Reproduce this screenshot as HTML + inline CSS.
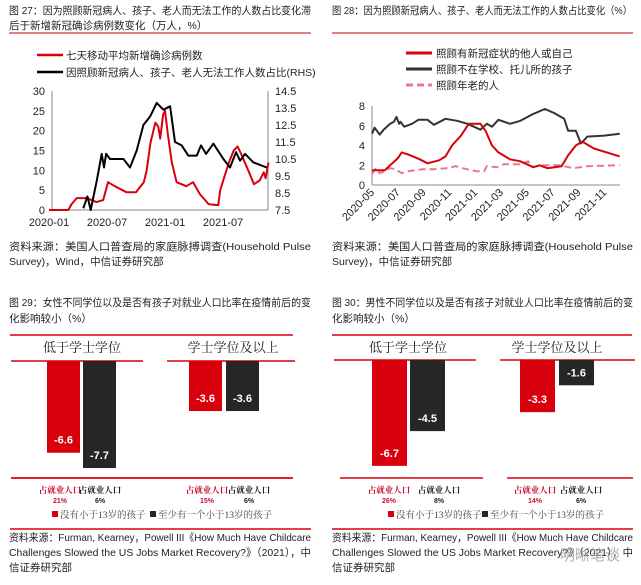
<!DOCTYPE html>
<html><head><meta charset="utf-8"><style>
html,body{margin:0;padding:0;background:#fff;}
svg{display:block;font-family:"Liberation Sans","Noto Sans CJK SC",sans-serif;}
.t{font-size:10.5px;fill:#222;}
.s{font-size:10.5px;fill:#222;}
.ax{font-size:11px;fill:#222;}
.sf{font-family:"Liberation Serif","Noto Serif CJK SC",serif;}
</style></head><body>
<svg id="svg" width="641" height="585" viewBox="0 0 641 585" xmlns="http://www.w3.org/2000/svg">
<g>
<text class="t" x="9" y="14" textLength="302" lengthAdjust="spacingAndGlyphs">图 27：因为照顾新冠病人、孩子、老人而无法工作的人数占比变化滞</text>
<text class="t" x="9" y="29">后于新增新冠确诊病例数变化（万人，%）</text>
<line x1="9" y1="33" x2="311" y2="33" stroke="#c00" stroke-width="1"/>
<line x1="37" y1="55" x2="63" y2="55" stroke="#d9000d" stroke-width="2.5"/>
<text class="s" x="66" y="59">七天移动平均新增确诊病例数</text>
<line x1="37" y1="72" x2="63" y2="72" stroke="#000" stroke-width="2.5"/>
<text class="s" x="66" y="76">因照顾新冠病人、孩子、老人无法工作人数占比(RHS)</text>
<g id="c27"></g>
<text class="s" x="9" y="250" textLength="302" lengthAdjust="spacingAndGlyphs">资料来源：美国人口普查局的家庭脉搏调查(Household Pulse</text>
<text class="s" x="9" y="265">Survey)，Wind，中信证券研究部</text>
</g>
<g>
<text class="t" x="332" y="14" textLength="300" lengthAdjust="spacingAndGlyphs">图 28：因为照顾新冠病人、孩子、老人而无法工作的人数占比变化（%）</text>
<line x1="332" y1="33" x2="633" y2="33" stroke="#c00" stroke-width="1"/>
<line x1="406" y1="53" x2="432" y2="53" stroke="#d9000d" stroke-width="3"/>
<text class="s" x="436" y="57">照顾有新冠症状的他人或自己</text>
<line x1="406" y1="69" x2="432" y2="69" stroke="#333" stroke-width="3"/>
<text class="s" x="436" y="73">照顾不在学校、托儿所的孩子</text>
<line x1="406" y1="85" x2="432" y2="85" stroke="#e8788c" stroke-width="3" stroke-dasharray="7,4"/>
<text class="s" x="436" y="89">照顾年老的人</text>
<g id="c28"></g>
<text class="s" x="332" y="250" textLength="301" lengthAdjust="spacingAndGlyphs">资料来源：美国人口普查局的家庭脉搏调查(Household Pulse</text>
<text class="s" x="332" y="265">Survey)，中信证券研究部</text>
</g>
<g>
<text class="t" x="9" y="306" textLength="302" lengthAdjust="spacingAndGlyphs">图 29：女性不同学位以及是否有孩子对就业人口比率在疫情前后的变</text>
<text class="t" x="9" y="322">化影响较小（%）</text>
<g id="c29"></g>
<text class="s" x="9" y="541" textLength="302" lengthAdjust="spacingAndGlyphs">资料来源：Furman, Kearney，Powell III《How Much Have Childcare</text>
<text class="s" x="9" y="556" textLength="302" lengthAdjust="spacingAndGlyphs">Challenges Slowed the US Jobs Market Recovery?》（2021），中</text>
<text class="s" x="9" y="571">信证券研究部</text>
</g>
<g>
<text class="t" x="332" y="306" textLength="301" lengthAdjust="spacingAndGlyphs">图 30：男性不同学位以及是否有孩子对就业人口比率在疫情前后的变</text>
<text class="t" x="332" y="322">化影响较小（%）</text>
<g id="c30"></g>
<text class="s" x="332" y="541" textLength="301" lengthAdjust="spacingAndGlyphs">资料来源：Furman, Kearney，Powell III《How Much Have Childcare</text>
<text class="s" x="332" y="556" textLength="301" lengthAdjust="spacingAndGlyphs">Challenges Slowed the US Jobs Market Recovery?》（2021），中</text>
<text class="s" x="332" y="571">信证券研究部</text>
<text x="560" y="560" style="font-size:15px;fill:#999;opacity:0.8">明晰笔谈</text>
</g>
</svg>
<script>
// ---- Figure 27 data ----
const c27RedMonths=[0,2.0,2.34,2.86,3.9,4.9,5.6,6.1,6.8,8.0,9.0,9.8,10.1,10.5,11.0,11.3,11.5,11.8,12.0,12.3,12.7,13.2,14.2,14.9,15.6,16.5,17.5,17.7,18.6,19.1,19.5,19.9,20.6,21.2,21.8,22.2,22.4,22.7];
const c27RedValues=[0,0,1.5,3,3,2,2.5,7,6,4.5,4.5,7,10,17,22,21,18,24,25,19,12,7,6,7,4,1.5,1.2,5,12,15,16,14,10,6.5,7.5,9.5,8,12];
const c27BlackMonths=[3.55,3.97,4.31,4.93,5.45,5.69,5.9,6.31,7.69,8.38,9.07,9.76,10.45,11.14,11.83,12.52,13.03,13.72,14.41,15.28,15.72,16.24,17.0,18.03,18.72,19.34,19.76,20.28,21.14,22.52];
const c27BlackValues=[7.6,8.3,7.5,9.2,10.8,10,10.8,10.5,10.5,10,11,12.5,13,13.8,13.4,13.6,11.5,11.3,10.7,10.7,11.3,10.8,11.4,10.5,10.0,10.9,10.4,10.8,10.3,10.0];
const c27LeftTicks=[0,5,10,15,20,25,30];
const c27RightTicks=[7.5,8.5,9.5,10.5,11.5,12.5,13.5,14.5];
const c27XLabels=["2020-01","2020-07","2021-01","2021-07"];
const c27XLabelMonths=[0,6,12,18];
// ---- Figure 28 data ----
const c28RedMonths=[0,0.5,1.0,1.4,2.0,2.3,2.8,3.7,4.3,5.2,5.7,6.2,6.9,7.5,8.4,8.8,9.3,9.8,10.7,11.5,12.5,13.0,13.6,14.7,15.2,15.8,16.3,17.2,18.2,19.2];
const c28RedValues=[1.5,1.5,1.5,2,2.7,3.3,3.1,2.6,2.2,2.5,2.9,4.0,5,6.2,6.2,5.5,4,3.3,2.6,2.4,1.8,2.0,1.7,1.9,3,4,4.4,3.7,3.3,2.9];
const c28BlackMonths=[0,0.2,0.6,0.9,1.4,1.7,1.9,2.1,2.2,2.5,3.1,3.6,4.3,4.8,5.7,6.6,7.4,7.9,8.4,8.9,9.3,9.8,10.7,11.5,12.5,13.4,14.1,14.9,15.2,15.8,16.2,16.7,18.0,19.2];
const c28BlackValues=[5.2,5.8,5.1,5.6,6.2,6.4,6.9,6.2,6.4,5.9,6.2,6.6,6.6,6.1,6.7,6.5,6.2,5.9,5.6,6.2,5.9,6.6,6.2,6.5,7.2,7.7,7.3,6.7,5.5,5.5,4.2,4.9,5.0,5.2];
const c28PinkMonths=[0,0.3,0.6,1.0,1.4,1.8,2.3,2.8,3.9,4.8,5.8,6.5,7.0,8.1,8.7,8.9,9.7,10.2,11.5,12.1,12.5,13.0,14.6,15.6,16.7,19.2];
const c28PinkValues=[1.1,1.7,1.2,1.4,1.7,1.6,1.2,1.4,1.6,1.6,1.7,1.9,1.7,1.4,1.4,1.9,1.8,2.1,2.1,2.4,1.8,2.0,2.0,1.7,1.9,2.0];
const c28YTicks=[0,2,4,6,8];
const c28XLabels=["2020-05","2020-07","2020-09","2020-11","2021-01","2021-03","2021-05","2021-07","2021-09","2021-11"];
// ---- Figure 29/30 bar data ----
const barGroups=["低于学士学位","学士学位及以上"];
const barSeries=["没有小于13岁的孩子","至少有一个小于13岁的孩子"];
const c29NoKids=[-6.6,-3.6];
const c29WithKids=[-7.7,-3.6];
const c29NoKidsShare=["21%","15%"];
const c29WithKidsShare=["6%","6%"];
const c30NoKids=[-6.7,-3.3];
const c30WithKids=[-4.5,-1.6];
const c30NoKidsShare=["26%","14%"];
const c30WithKidsShare=["8%","6%"];

const NS="http://www.w3.org/2000/svg";
function mk(parent,tag,attrs,text){const e=document.createElementNS(NS,tag);for(const k in attrs)e.setAttribute(k,attrs[k]);if(text!==undefined)e.textContent=text;parent.appendChild(e);return e;}
function pathD(xs,ys,fx,fy){return xs.map((m,i)=>(i?"L":"M")+fx(m).toFixed(1)+","+fy(ys[i]).toFixed(1)).join(" ");}

// ---- Fig 27 ----
(function(){
const g=document.getElementById('c27');
const x0=52,x1=268,yT=91,yB=210;
const xPerMonth=9.67,xOrigin=49;
const fx=m=>xOrigin+m*xPerMonth;
const fyL=v=>yB-(v-0)/30*(yB-yT);
const fyR=v=>yB-(v-7.5)/7*(yB-yT);
let e;
e=mk(g,'line',{x1:x0,y1:yT,x2:x0,y2:yB,stroke:'#888','stroke-width':1});


e=mk(g,'line',{x1:x1,y1:yT,x2:x1,y2:yB,stroke:'#888','stroke-width':1});


e=mk(g,'line',{x1:x0,y1:yB,x2:x1,y2:yB,stroke:'#888','stroke-width':1});


c27LeftTicks.forEach(v=>{e=mk(g,'text',{class:'ax',x:45,y:fyL(v)+4,'text-anchor':'end'},String(v));

});
c27RightTicks.forEach(v=>{e=mk(g,'text',{class:'ax',x:275,y:fyR(v)+4},v.toFixed(1));

});
c27XLabels.forEach((l,i)=>{e=mk(g,'text',{class:'ax',x:fx(c27XLabelMonths[i]),y:226,'text-anchor':'middle'},l);

});
e=mk(g,'path',{d:pathD(c27RedMonths,c27RedValues,fx,fyL),fill:'none',stroke:'#d9000d','stroke-width':2,'stroke-linejoin':'round'});


e=mk(g,'path',{d:pathD(c27BlackMonths,c27BlackValues,fx,fyR),fill:'none',stroke:'#000','stroke-width':2,'stroke-linejoin':'round'});


})();

// ---- Fig 28 ----
(function(){
const g=document.getElementById('c28');
const x0=372,x1=620,yT=106,yB=185,pxMonth=12.9;
const fx=m=>x0+m*pxMonth;
const fy=v=>yB-v/8*(yB-yT);
let e;
e=mk(g,'line',{x1:x0,y1:yT,x2:x0,y2:yB,stroke:'#888','stroke-width':1});


e=mk(g,'line',{x1:x0,y1:yB,x2:x1,y2:yB,stroke:'#888','stroke-width':1});


c28YTicks.forEach(v=>{e=mk(g,'text',{class:'ax',x:365,y:fy(v)+4,'text-anchor':'end'},String(v));

});
c28XLabels.forEach((l,i)=>{const x=fx(i*2);
e=mk(g,'text',{class:'ax',x:x+3,y:yB+8,'text-anchor':'end',transform:`rotate(-45 ${x+3} ${yB+8})`},l);

});
e=mk(g,'path',{d:pathD(c28PinkMonths,c28PinkValues,fx,fy),fill:'none',stroke:'#e8788c','stroke-width':2,'stroke-dasharray':'7,4'});


e=mk(g,'path',{d:pathD(c28BlackMonths,c28BlackValues,fx,fy),fill:'none',stroke:'#333','stroke-width':2,'stroke-linejoin':'round'});


e=mk(g,'path',{d:pathD(c28RedMonths,c28RedValues,fx,fy),fill:'none',stroke:'#d9000d','stroke-width':2,'stroke-linejoin':'round'});


})();

// ---- Bar figures ----
function bars(id,cfg,noKids,withKids,shareA,shareB){
const g=document.getElementById(id);
let e;
const fy=v=>cfg.base-v*cfg.scale;
e=mk(g,'line',{x1:cfg.top[0],y1:335,x2:cfg.top[1],y2:335,stroke:'#d9000d','stroke-width':1.5});


e=mk(g,'line',{x1:cfg.foot[0],y1:529,x2:cfg.foot[1],y2:529,stroke:'#d9000d','stroke-width':1.5});


barGroups.forEach((name,i)=>{
 e=mk(g,'text',{class:'sf',x:cfg.hx[i],y:352,'text-anchor':'middle','font-size':'13px',fill:'#222'},name);
 
 
 e=mk(g,'line',{x1:cfg.base1[i][0],y1:cfg.base,x2:cfg.base1[i][1],y2:cfg.base,stroke:'#d9000d','stroke-width':1.5});
 
 
 e=mk(g,'line',{x1:cfg.bot[i][0],y1:478,x2:cfg.bot[i][1],y2:478,stroke:'#d9000d','stroke-width':1.5});
 
 
 [[noKids,'#d9000d',cfg.rx[i],shareA],[withKids,'#262626',cfg.bx[i],shareB]].forEach(([vals,col,x,share],k)=>{
  const v=vals[i],y=fy(v);
  e=mk(g,'rect',{x:x,y:cfg.base,width:cfg.w,height:y-cfg.base,fill:col});
  
  
  e=mk(g,'text',{x:x+cfg.w/2,y:y-9,'text-anchor':'middle','font-size':'11px','font-weight':'bold',fill:'#fff'},v.toFixed(1));
  
  
  const lx=cfg.lx[i][k];
  e=mk(g,'text',{class:'sf',x:lx,y:493,'text-anchor':'middle','font-size':'8.5px','font-weight':'bold',fill:k?'#222':'#c8102e'},'占就业人口');
  
  
  e=mk(g,'text',{x:lx,y:503,'text-anchor':'middle','font-size':'7px','font-weight':'bold',fill:k?'#222':'#c8102e'},share[i]);
  
  
 });
});
barSeries.forEach((s,k)=>{
 e=mk(g,'rect',{x:cfg.leg[k],y:511,width:6,height:6,fill:k?'#262626':'#d9000d'});
 
 
 e=mk(g,'text',{class:'sf',x:cfg.leg[k]+8,y:518,'font-size':'9.5px',fill:'#444'},s);
 
 
});
}
bars('c29',{base:361,scale:13.9,w:33,top:[10,293],foot:[10,311],hx:[82,233],
 base1:[[11,143],[167,295]],bot:[[11,293],[11,293]],rx:[47,189],bx:[83,226],
 lx:[[60,100],[207,249]],leg:[52,150]},c29NoKids,c29WithKids,c29NoKidsShare,c29WithKidsShare);
bars('c30',{base:360,scale:15.8,w:35,top:[332,632],foot:[332,633],hx:[408,557],
 base1:[[334,476],[500,635]],bot:[[340,483],[507,633]],rx:[372,520],bx:[410,559],
 lx:[[389,439],[535,581]],leg:[388,482]},c30NoKids,c30WithKids,c30NoKidsShare,c30WithKidsShare);
</script>
</body></html>
